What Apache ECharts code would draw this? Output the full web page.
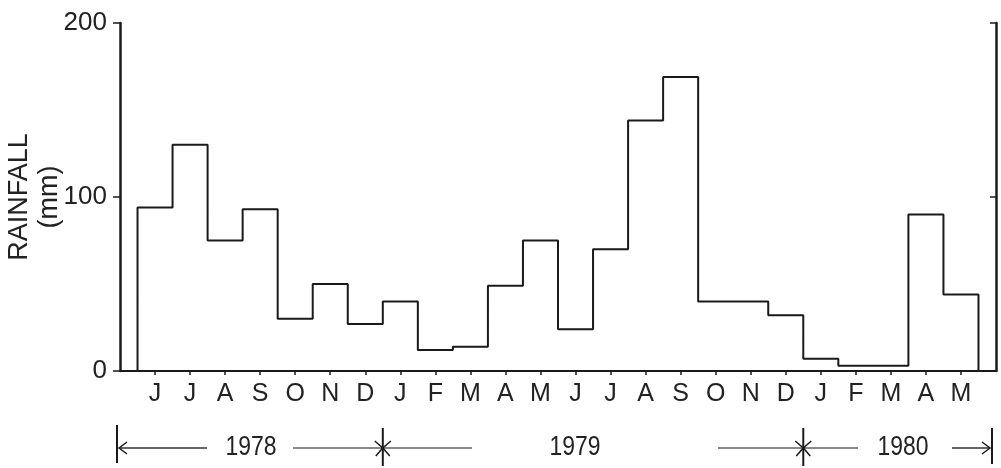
<!DOCTYPE html>
<html><head><meta charset="utf-8">
<script src="https://cdn.jsdelivr.net/npm/echarts@6/dist/echarts.min.js"></script>
<style>html,body{margin:0;padding:0;background:#fff}#c{width:1001px;height:468px}</style>
</head><body><div id="c"></div>
<script>
const months = ['J','J','A','S','O','N','D','J','F','M','A','M','J','J','A','S','O','N','D','J','F','M','A','M'];
const rainfall = [94,130,75,93,30,50,27,40,12,14,49,75,24,70,144,169,40,40,32,7,3,3,90,44];
const yMin = 0, yMax = 200, yStep = 100;
const years = ['1978','1979','1980'];
const yearBoundaries = [6.5, 18.5];

const FONT = '"Liberation Sans",Arial,sans-serif';
const INK = '#1a1a1a';
const TXT = '#222';

// step outline built from the monthly values
const outline = [[-0.5, 0]];
rainfall.forEach((v, i) => { outline.push([i - 0.5, v]); outline.push([i + 0.5, v]); });
outline.push([rainfall.length - 0.5, 0]);
const idx = months.map((m, i) => i);

const chart = echarts.init(document.getElementById('c'), null, {renderer: 'canvas'});
chart.setOption({
  animation: false,
  backgroundColor: '#fff',
  grid: {left: 120, right: 5, top: 23, bottom: 97, containLabel: false, outerBoundsMode: 'none'},
  xAxis: {
    type: 'value', min: -1, max: months.length,
    splitLine: {show: false},
    axisLine: {show: true, onZero: false, lineStyle: {color: INK, width: 2}},
    axisTick: {show: true, customValues: idx, length: 4, lineStyle: {color: INK, width: 1.5}},
    axisLabel: {show: true, customValues: idx, formatter: v => months[v] || '', margin: 11,
      fontSize: 25, fontFamily: FONT, color: TXT}
  },
  yAxis: [{
    type: 'value', min: yMin, max: yMax, interval: yStep,
    name: 'RAINFALL\n(mm)', nameLocation: 'middle', nameRotate: 90, nameGap: 55, nameMoveOverlap: false,
    nameTextStyle: {fontSize: 27, fontFamily: FONT, color: TXT, lineHeight: 30},
    splitLine: {show: false},
    axisLine: {show: true, onZero: false, lineStyle: {color: INK, width: 2.5}},
    axisTick: {show: true, length: 7, lineStyle: {color: INK, width: 1.5}},
    axisLabel: {fontSize: 26, fontFamily: FONT, color: TXT, margin: 13}
  }, {
    type: 'value', position: 'right', min: yMin, max: yMax, interval: yStep,
    splitLine: {show: false},
    axisLine: {show: true, onZero: false, lineStyle: {color: INK, width: 2.5}},
    axisTick: {show: true, inside: true, length: 6, lineStyle: {color: INK, width: 1.5}},
    axisLabel: {show: false}
  }],
  series: [{
    type: 'line', data: outline, symbol: 'none', silent: true,
    lineStyle: {color: INK, width: 2}
  }]
});

// year band below the month labels
const Y = 448;
const px = v => chart.convertToPixel({xAxisIndex: 0}, v);
const xL = 117, xR = 992;
const b1 = px(yearBoundaries[0]), b2 = px(yearBoundaries[1]);
const seg = (x1, x2, c, w) => ({type: 'line', shape: {x1, y1: Y, x2, y2: Y}, style: {stroke: c, lineWidth: w}, silent: true});
const star = (x) => ([
  {type: 'line', shape: {x1: x, y1: 428, x2: x, y2: 466}, style: {stroke: INK, lineWidth: 2}},
  {type: 'polyline', shape: {points: [[x - 8, Y - 7], [x, Y], [x + 8, Y - 7]]}, style: {stroke: INK, lineWidth: 1.5, fill: null}},
  {type: 'polyline', shape: {points: [[x - 7, Y + 8], [x, Y], [x + 7, Y + 8]]}, style: {stroke: INK, lineWidth: 1.5, fill: null}}
]);
const yearText = (t, cx) => ({type: 'text', x: cx, y: Y, scaleX: 0.85,
  style: {x: 0, y: 0, text: t, fontSize: 27, fontFamily: FONT, fill: TXT, align: 'center', verticalAlign: 'middle'}});
const g = [
  {type: 'line', shape: {x1: xL, y1: 425, x2: xL, y2: 463}, style: {stroke: INK, lineWidth: 2}},
  seg(xL + 2, 207, '#333', 1.5),
  {type: 'polyline', shape: {points: [[xL + 10, Y - 6], [xL + 2, Y], [xL + 10, Y + 6]]}, style: {stroke: INK, lineWidth: 1.5, fill: null}},
  yearText(years[0], 251),
  seg(293, 472, '#888', 2),
  ...star(b1),
  yearText(years[1], 575),
  seg(718, 858, '#888', 2),
  ...star(b2),
  yearText(years[2], 903),
  seg(952, xR - 2, '#333', 1.5),
  {type: 'polyline', shape: {points: [[xR - 10, Y - 6], [xR - 2, Y], [xR - 10, Y + 6]]}, style: {stroke: INK, lineWidth: 1.5, fill: null}},
  {type: 'line', shape: {x1: xR, y1: 428, x2: xR, y2: 464}, style: {stroke: INK, lineWidth: 2}}
];
chart.setOption({graphic: g});
</script></body></html>
